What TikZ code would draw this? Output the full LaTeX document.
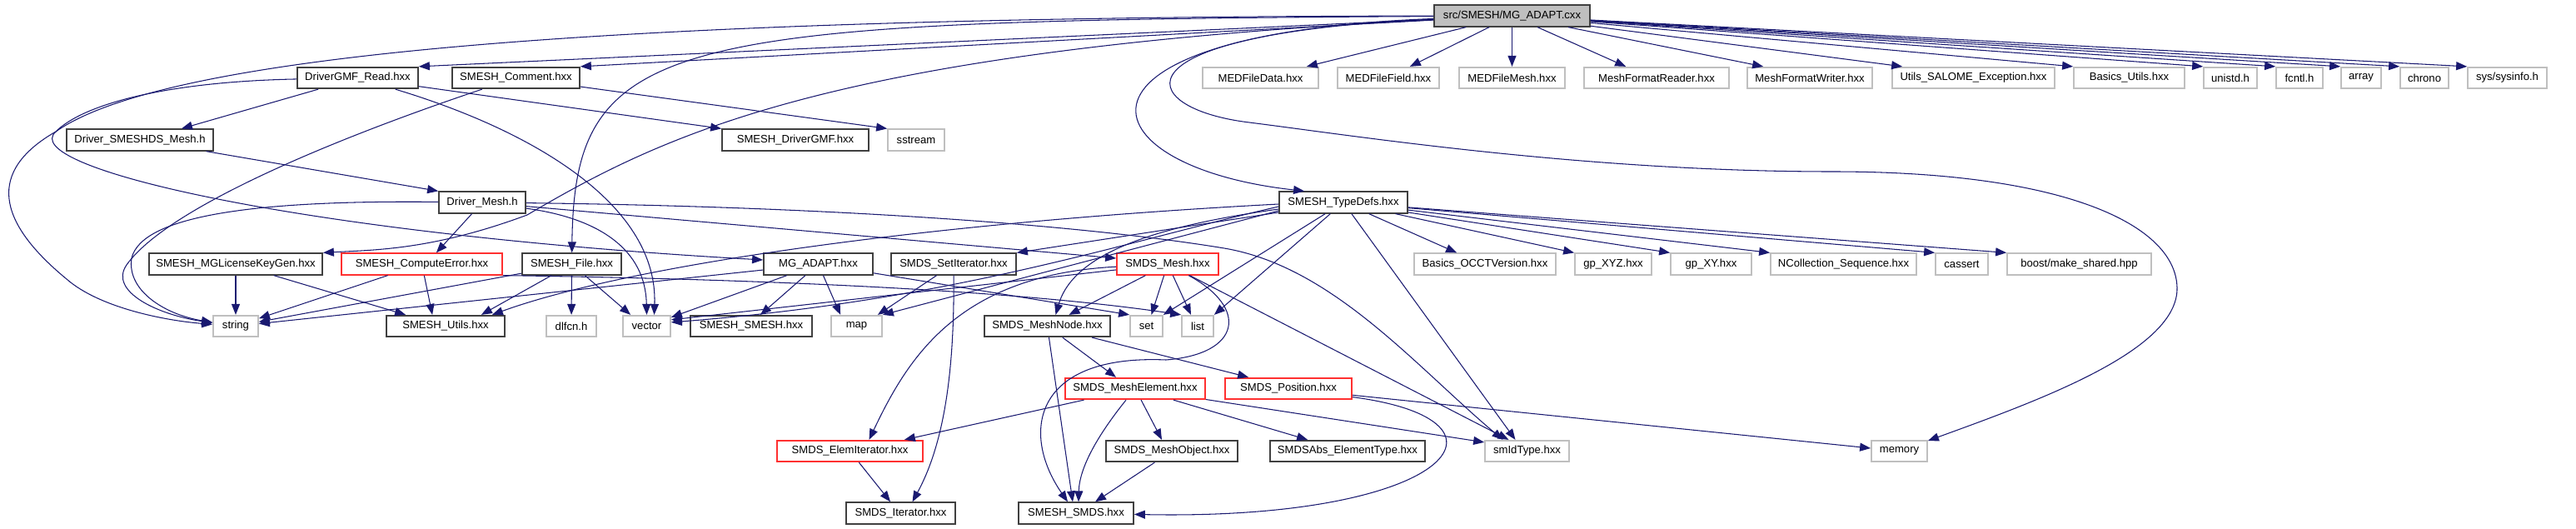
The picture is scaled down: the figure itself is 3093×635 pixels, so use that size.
\documentclass[tikz,border=0pt]{standalone}
\usepackage{fontspec}
\setsansfont{Liberation Sans}
\usepackage{tikz}
\usetikzlibrary{arrows.meta, calc}
\definecolor{edgecolor}{HTML}{191970}
\definecolor{extcolor}{HTML}{BFBFBF}
\definecolor{hdrcolor}{HTML}{404040}
\definecolor{trunccolor}{HTML}{FF3030}

\begin{document}
\begin{tikzpicture}[x=0.02cm, y=-0.02cm,
    font=\sffamily\fontsize{7.45}{9}\selectfont,
    box/.style={draw, line width=1pt, minimum height=0.51cm, inner sep=1pt, fill=white},
    bw/.style={minimum width=#1*0.02cm},
    hdr/.style={box, draw=hdrcolor},
    ext/.style={box, draw=extcolor},
    trunc/.style={box, draw=trunccolor},
    rootnode/.style={box, draw=hdrcolor, fill=extcolor},
    dep/.style={edgecolor, line width=0.6pt, -{Triangle[length=0.26cm, width=0.2cm]}}]

    \useasboundingbox (0,0) rectangle (3093,635);

    % The source file
    \node[rootnode, bw=187] (root) at (1815.5,19) {src/SMESH/MG\_ADAPT.cxx};

    % First level headers
    \node[hdr, bw=145] (gmfread) at (429.5,93.5) {DriverGMF\_Read.hxx};
    \node[hdr, bw=153] (comment) at (619.5,93.5) {SMESH\_Comment.hxx};
    \node[ext, bw=139] (medData) at (1513.5,93.5) {MEDFileData.hxx};
    \node[ext, bw=122] (medField) at (1667,93.5) {MEDFileField.hxx};
    \node[ext, bw=127] (medMesh) at (1815.5,93.5) {MEDFileMesh.hxx};
    \node[ext, bw=174] (fmtReader) at (1989,93.5) {MeshFormatReader.hxx};
    \node[ext, bw=150] (fmtWriter) at (2173,93.5) {MeshFormatWriter.hxx};
    \node[ext, bw=195] (salomeExc) at (2369.5,93.5) {Utils\_SALOME\_Exception.hxx};
    \node[ext, bw=133] (basicsUtils) at (2556.5,93.5) {Basics\_Utils.hxx};
    \node[ext, bw=64] (unistd) at (2678,93.5) {unistd.h};
    \node[ext, bw=56] (fcntl) at (2761,93.5) {fcntl.h};
    \node[ext, bw=48] (array) at (2835,93.5) {array};
    \node[ext, bw=58] (chrono) at (2911,93.5) {chrono};
    \node[ext, bw=95] (sysinfo) at (3010.5,93.5) {sys/sysinfo.h};

    \node[hdr, bw=176] (smeshdsMesh) at (168,168) {Driver\_SMESHDS\_Mesh.h};
    \node[hdr, bw=176] (driverGMF) at (955,168) {SMESH\_DriverGMF.hxx};
    \node[ext, bw=68] (sstream) at (1100,168) {sstream};

    \node[hdr, bw=104] (driverMesh) at (579,243) {Driver\_Mesh.h};
    \node[hdr, bw=154] (typeDefs) at (1613,243) {SMESH\_TypeDefs.hxx};

    % Middle rows
    \node[hdr, bw=208] (licenseKey) at (283,317) {SMESH\_MGLicenseKeyGen.hxx};
    \node[trunc, bw=193] (computeErr) at (506.5,317) {SMESH\_ComputeError.hxx};
    \node[hdr, bw=119] (smeshFile) at (686.5,317) {SMESH\_File.hxx};
    \node[hdr, bw=131] (mgAdaptH) at (982.5,317) {MG\_ADAPT.hxx};
    \node[hdr, bw=150] (setIter) at (1145,317) {SMDS\_SetIterator.hxx};
    \node[trunc, bw=122] (smdsMesh) at (1402,317) {SMDS\_Mesh.hxx};
    \node[ext, bw=170] (occtVersion) at (1783,317) {Basics\_OCCTVersion.hxx};
    \node[ext, bw=92] (gpXYZ) at (1937,317) {gp\_XYZ.hxx};
    \node[ext, bw=97] (gpXY) at (2054.5,317) {gp\_XY.hxx};
    \node[ext, bw=175] (ncSeq) at (2213.5,317) {NCollection\_Sequence.hxx};
    \node[ext, bw=63] (cassert) at (2355.5,317) {cassert};
    \node[ext, bw=173] (makeShared) at (2496.5,317) {boost/make\_shared.hpp};

    \node[ext, bw=54] (string) at (283,391.5) {string};
    \node[hdr, bw=142] (smeshUtils) at (535,391.5) {SMESH\_Utils.hxx};
    \node[ext, bw=60] (dlfcn) at (686,391.5) {dlfcn.h};
    \node[ext, bw=57] (vector) at (776.5,391.5) {vector};
    \node[hdr, bw=146] (smeshSmesh) at (902,391.5) {SMESH\_SMESH.hxx};
    \node[ext, bw=61] (map) at (1028.5,391.5) {map};
    \node[hdr, bw=151] (meshNode) at (1257.5,391.5) {SMDS\_MeshNode.hxx};
    \node[ext, bw=39] (set) at (1376.5,391.5) {set};
    \node[ext, bw=38] (list) at (1438,391.5) {list};

    % Bottom rows
    \node[trunc, bw=168] (meshElem) at (1363,466.5) {SMDS\_MeshElement.hxx};
    \node[trunc, bw=152] (position) at (1547,466.5) {SMDS\_Position.hxx};

    \node[trunc, bw=175] (elemIter) at (1020.5,541.5) {SMDS\_ElemIterator.hxx};
    \node[hdr, bw=158] (meshObject) at (1407,541.5) {SMDS\_MeshObject.hxx};
    \node[hdr, bw=186] (elemType) at (1618,541.5) {SMDSAbs\_ElementType.hxx};
    \node[ext, bw=101] (smIdType) at (1833.5,541.5) {smIdType.hxx};
    \node[ext, bw=67] (memory) at (2280.5,541.5) {memory};

    \node[hdr, bw=131] (smdsIter) at (1081.5,616) {SMDS\_Iterator.hxx};
    \node[hdr, bw=138] (smeshSmds) at (1292,616) {SMESH\_SMDS.hxx};

    % Includes of the source file
    \draw[dep] (root) -- (gmfread.north east);
    \draw[dep] (root) -- (comment.north east);
    \draw[dep] (root) -- ($(medData.north east)+(-15,0)$);
    \draw[dep] (root) -- ($(medField.north east)+(-36,0)$);
    \draw[dep] (root) -- (medMesh);
    \draw[dep] (root) -- ($(fmtReader.north west)+(51,0)$);
    \draw[dep] (root) -- ($(fmtWriter.north west)+(20,0)$);
    \draw[dep] (root) -- ($(salomeExc.north west)+(13,0)$);
    \draw[dep] (root) -- (basicsUtils.north west);
    \draw[dep] (root) -- (unistd.north west);
    \draw[dep] (root) -- (fcntl.north west);
    \draw[dep] (root) -- (array.north west);
    \draw[dep] (root) -- (chrono.north west);
    \draw[dep] (root) -- (sysinfo.north west);
    \draw[dep] (root) .. controls (800,25) and (690,40) .. (smeshFile);
    \draw[dep] (root) .. controls (1000,60) and (800,160) .. (633,258)
        .. controls (520,300) and (450,300) .. (licenseKey.north east);
    \draw[dep] (root) .. controls (900,20) and (220,50) .. (67,158)
        .. controls (20,200) and (350,280) .. ($(mgAdaptH.west)+(0,-5)$);
    \draw[dep] (root) .. controls (1250,40) and (1300,200) .. ($(typeDefs.north west)+(31,0)$);
    \draw[dep] (root) .. controls (1330,40) and (1360,130) .. (1500,147)
        .. controls (1620,162) and (1900,206) .. (2200,206)
        .. controls (2480,206) and (2612,270) .. (2614,345)
        .. controls (2616,420) and (2450,480) .. (memory);

    % DriverGMF_Read.hxx and SMESH_Comment.hxx
    \draw[dep] (gmfread) -- ($(smeshdsMesh.north)+(50,0)$);
    \draw[dep] (gmfread) -- (driverGMF.north west);
    \draw[dep] (gmfread) .. controls (650,160) and (790,250) .. ($(vector.north)+(9,0)$);
    \draw[dep] (gmfread) .. controls (200,98) and (100,125) .. (67,158)
        .. controls (-15,205) and (-5,265) .. (80,335)
        .. controls (120,370) and (200,385) .. (string);
    \draw[dep] (comment) -- (sstream.north west);
    \draw[dep] (comment) .. controls (400,167) and (200,250) .. (152,318)
        .. controls (130,350) and (190,378) .. (string);

    % Driver_SMESHDS_Mesh.h and Driver_Mesh.h
    \draw[dep] (smeshdsMesh) -- (driverMesh.north west);
    \draw[dep] (driverMesh) -- ($(computeErr.north east)+(-80,0)$);
    \draw[dep] (driverMesh) .. controls (300,240) and (170,260) .. (158,310)
        .. controls (152,350) and (200,378) .. (string);
    \draw[dep] (driverMesh) .. controls (720,262) and (775,300) .. (vector.north);
    \draw[dep] (driverMesh) -- ($(smdsMesh.west)+(0,-7)$);
    \draw[dep] (driverMesh) .. controls (1000,248) and (1300,270) .. (1470,298)
        .. controls (1600,320) and (1700,440) .. ($(smIdType.north)+(-29,0)$);

    % Middle row headers
    \draw[dep] (licenseKey) -- (string);
    \draw[dep] (licenseKey) -- ($(smeshUtils.north west)+(24,0)$);
    \draw[dep] (computeErr) -- (string);
    \draw[dep] (computeErr) -- ($(smeshUtils.north west)+(56,0)$);
    \draw[dep] (computeErr.south east) .. controls (850,334) and (1200,345) .. (list.north west);
    \draw[dep] (smeshFile) -- ($(smeshUtils.north east)+(-29,0)$);
    \draw[dep] (smeshFile) -- (dlfcn);
    \draw[dep] (smeshFile) -- ($(vector.north west)+(10,0)$);
    \draw[dep] (smeshFile) -- (string);
    \draw[dep] (mgAdaptH) -- (string);
    \draw[dep] (mgAdaptH) -- ($(vector.north east)+(0,3)$);
    \draw[dep] (mgAdaptH) -- ($(smeshSmesh.north)+(11,0)$);
    \draw[dep] (mgAdaptH) -- ($(map.north west)+(12,0)$);
    \draw[dep] (mgAdaptH) -- (set.north west);
    \draw[dep] (setIter) -- ($(map.north east)+(-6,0)$);
    \draw[dep] (setIter) .. controls (1146,440) and (1135,530) .. ($(smdsIter.north)+(14,0)$);

    % SMESH_TypeDefs.hxx
    \draw[dep] (typeDefs) -- ($(occtVersion.north west)+(52,0)$);
    \draw[dep] (typeDefs) -- (gpXYZ.north west);
    \draw[dep] (typeDefs) -- (gpXY.north west);
    \draw[dep] (typeDefs) -- (ncSeq.north west);
    \draw[dep] (typeDefs) -- (cassert.north west);
    \draw[dep] (typeDefs) -- (makeShared.north west);
    \draw[dep] (typeDefs) -- ($(smIdType.north)+(-14,0)$);
    \draw[dep] (typeDefs) -- (list.north east);
    \draw[dep] (typeDefs) -- (set.north east);
    \draw[dep] (typeDefs) -- (setIter.north east);
    \draw[dep] ($(typeDefs.west)+(0,8)$) .. controls (1400,270) and (1290,300) .. ($(meshNode.north)+(10,0)$);
    \draw[dep] ($(typeDefs.west)+(0,10)$) -- (map.north east);
    \draw[dep] ($(typeDefs.west)+(0,5)$) .. controls (1350,290) and (1150,360) .. ($(vector.north east)+(0,9)$);
    \draw[dep] ($(typeDefs.west)+(0,2)$) .. controls (1100,268) and (750,320) .. ($(smeshUtils.north east)+(-16,0)$);

    % SMDS_Mesh.hxx
    \draw[dep] (smdsMesh) -- ($(vector.north east)+(0,6)$);
    \draw[dep] (smdsMesh) -- ($(meshNode.north)+(26,0)$);
    \draw[dep] (smdsMesh) -- ($(set.north)+(6,0)$);
    \draw[dep] (smdsMesh) -- ($(list.north)+(-8,0)$);
    \draw[dep] (smdsMesh) -- ($(smIdType.north)+(-22,0)$);
    \draw[dep] (smdsMesh) .. controls (1150,330) and (1090,430) .. ($(elemIter.north)+(23,0)$);
    \draw[dep] (smdsMesh) .. controls (1500,370) and (1490,425) .. (1400,432)
        .. controls (1240,425) and (1225,520) .. ($(smeshSmds.north)+(-10,0)$);

    % Node, element and position
    \draw[dep] (meshNode) -- ($(meshElem.north)+(-23,0)$);
    \draw[dep] (meshNode) -- ($(position.north west)+(29,0)$);
    \draw[dep] (meshNode) -- ($(smeshSmds.north)+(-4,0)$);
    \draw[dep] (meshElem) -- ($(elemIter.north east)+(-23,0)$);
    \draw[dep] (meshElem) .. controls (1320,520) and (1296,560) .. ($(smeshSmds.north)+(3,0)$);
    \draw[dep] (meshElem) -- ($(meshObject.north)+(-12,0)$);
    \draw[dep] (meshElem) -- ($(elemType.north west)+(46,0)$);
    \draw[dep] (meshElem) -- ($(smIdType.north west)+(0,3)$);
    \draw[dep] (position) -- (memory);
    \draw[dep] (position) .. controls (1840,505) and (1740,625) .. (smeshSmds);
    \draw[dep] (elemIter) -- ($(smdsIter.north west)+(54,0)$);
    \draw[dep] (meshObject) -- ($(smeshSmds.north)+(23,0)$);

\end{tikzpicture}
\end{document}
